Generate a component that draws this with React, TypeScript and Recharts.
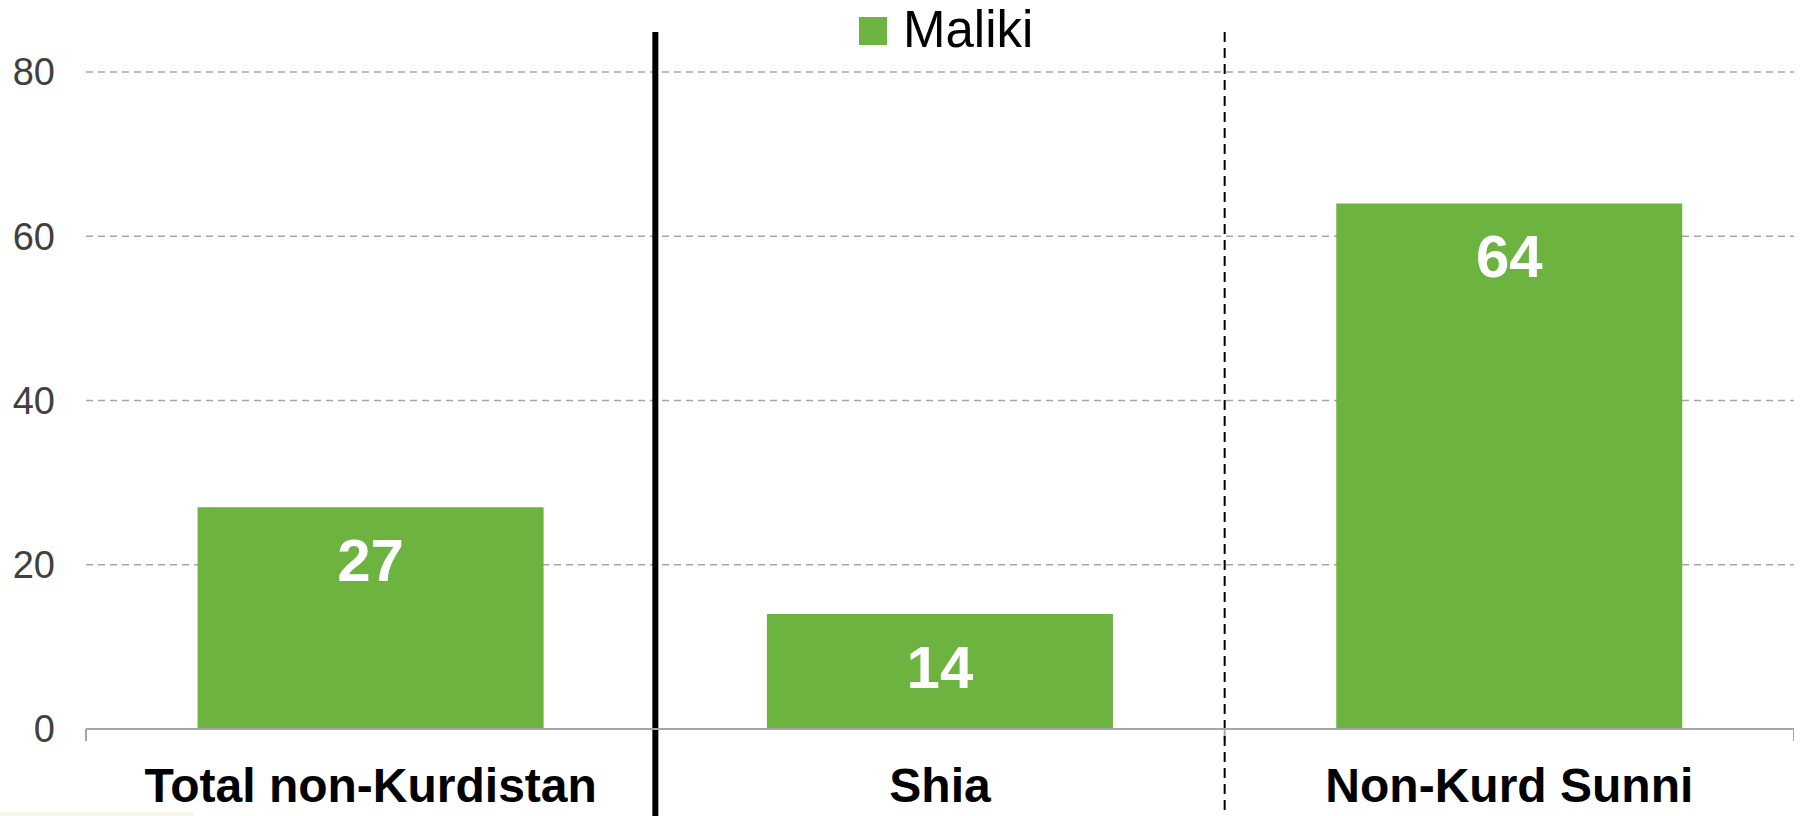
import React from 'react';
import { BarChart, Bar, XAxis, YAxis, CartesianGrid, ReferenceLine, LabelList, Legend } from 'recharts';

const categories = ['Total non-Kurdistan', 'Shia', 'Non-Kurd Sunni'];
const malikiValues = [27, 14, 64];
const yTicks = [0, 20, 40, 60, 80];
const seriesName = 'Maliki';

const data = categories.map((c, i) => ({ category: c, maliki: malikiValues[i] }));

const GREEN = '#6db33f';
const FONT = '"Liberation Sans", Arial, Helvetica, sans-serif';

const XTick = (props: any) => {
  const { x, y, payload } = props;
  return (
    <text x={x} y={y + 65} textAnchor="middle" fontSize={48} fontWeight="bold" fill="#000" fontFamily={FONT}>
      {payload.value}
    </text>
  );
};

const BarValueLabel = (props: any) => {
  const { x, y, width, value } = props;
  return (
    <text x={Number(x) + Number(width) / 2} y={Number(y) + 74} textAnchor="middle" fontSize={60} fontWeight="bold" fill="#fff" fontFamily={FONT}>
      {value}
    </text>
  );
};

const makeDivider = (dashed: boolean) => (props: any) => {
  const { x1, y1, y2 } = props;
  const top = Math.min(y1, y2) - 40;
  const bottom = Math.max(y1, y2) + 90;
  return (
    <line x1={x1} x2={x1} y1={top} y2={bottom} stroke="#000" strokeWidth={dashed ? 2 : 6} strokeDasharray={dashed ? '10 6' : undefined} />
  );
};

const TickMark = (props: any) => {
  const { x1, y1, y2 } = props;
  const b = Math.max(y1, y2);
  return <line x1={x1} x2={x1} y1={b} y2={b + 12} stroke="#a6a6a6" strokeWidth={2} />;
};

const LegendContent = () => (
  <svg width={1794} height={56} style={{ display: 'block', overflow: 'visible' }}>
    <rect x={851} y={1} width={28} height={28} fill={GREEN} />
    <text x={895} y={31} fontSize={51} fill="#000" fontFamily={FONT}>{seriesName}</text>
  </svg>
);

export default function App() {
  return (
    <div style={{ fontFamily: FONT }}>
      <BarChart
        width={1794}
        height={808}
        data={data}
        margin={{ top: 8, right: 8, left: 0, bottom: 0 }}
        barCategoryGap="19.6%"
      >
        <Legend verticalAlign="top" align="left" content={<LegendContent />} wrapperStyle={{ left: 0, top: 8, width: 1794, height: 56 }} />
        <CartesianGrid vertical={false} stroke="#a6a6a6" strokeWidth={1.5} strokeDasharray="7 5" />
        <XAxis
          dataKey="category"
          interval={0}
          height={87}
          tickLine={false}
          axisLine={{ stroke: '#a6a6a6', strokeWidth: 2 }}
          tick={<XTick />}
        />
        <YAxis
          domain={[0, 80]}
          ticks={yTicks}
          width={78}
          axisLine={false}
          tickLine={false}
          tickSize={0}
          tickMargin={31}
          tick={{ fontSize: 38, fill: '#404040', fontFamily: FONT }}
        />
        <Bar dataKey="maliki" name={seriesName} fill={GREEN} isAnimationActive={false}>
          <LabelList dataKey="maliki" content={<BarValueLabel />} />
        </Bar>
        <ReferenceLine x={categories[0]} position="start" ifOverflow="visible" shape={TickMark} />
        <ReferenceLine x={categories[1]} position="start" ifOverflow="visible" shape={TickMark} />
        <ReferenceLine x={categories[2]} position="start" ifOverflow="visible" shape={TickMark} />
        <ReferenceLine x={categories[2]} position="end" ifOverflow="visible" shape={TickMark} />
        <ReferenceLine x={categories[1]} position="start" ifOverflow="visible" shape={makeDivider(false)} />
        <ReferenceLine x={categories[2]} position="start" ifOverflow="visible" shape={makeDivider(true)} />
      </BarChart>
      <div style={{ position: 'absolute', left: 0, top: 812, width: 193, height: 4, background: '#f8f4ec' }} />
    </div>
  );
}
